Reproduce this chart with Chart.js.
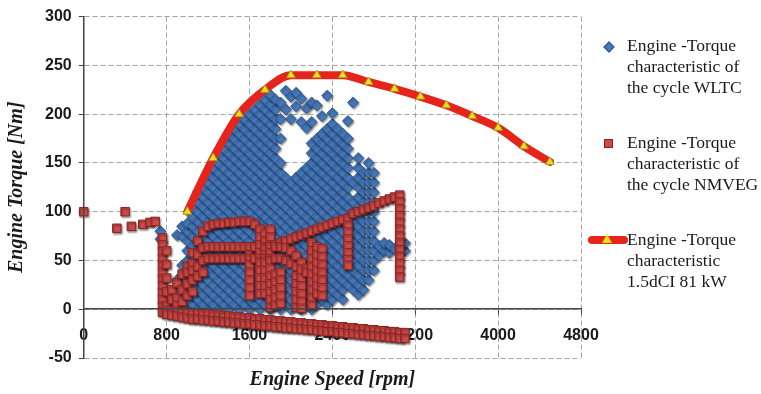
<!DOCTYPE html>
<html>
<head>
<meta charset="utf-8">
<script src="https://cdn.jsdelivr.net/npm/chart.js@4.4.1/dist/chart.umd.min.js"></script>
<style>
  html, body { margin: 0; padding: 0; background: #fff; }
  #wrap { position: relative; width: 761px; height: 394px; }
  .leg { position: absolute; left: 627px; font-family: "Liberation Serif", "Times New Roman", serif; font-size: 17.5px; line-height: 21px; color: #1a1a1a; white-space: nowrap; }
  .mk { position: absolute; }
</style>
</head>
<body>
<div id="wrap">
  <canvas id="chart" width="761" height="394"></canvas>
</div>
<script>
// full-load torque curve of the engine
const curveRpm = [1000, 1250, 1500, 1750, 2000, 2250, 2500, 2750, 3000, 3250, 3500, 3750, 4000, 4250, 4500];
const curveTorque = [100, 155, 200, 225, 240, 240, 240, 233, 226, 218, 209, 198, 186, 167, 151];

// WLTC operating points, read column by column (rpm -> torques)
const wltcRpm = [740, 850, 900, 950, 1000, 1050, 1100, 1150, 1200, 1250, 1300, 1350, 1400, 1450, 1500, 1550, 1600, 1650, 1700, 1750, 1800, 1850, 1900, 1950, 2000, 2050, 2100, 2150, 2200, 2250, 2300, 2350, 2400, 2450, 2500, 2550, 2600, 2650, 2700, 2750, 2800, 2850, 2900, 2950, 3000, 3050, 3100];
const wltcTorque = [
  [80, 72],
  [5, 15],
  [0, 10, 20, 30, 76],
  [5, 15, 25, 35, 45, 75, 85],
  [0, 10, 20, 30, 40, 50, 60, 70, 80, 88],
  [5, 15, 25, 35, 45, 55, 65, 75, 85, 95, 105],
  [0, 10, 20, 30, 40, 50, 60, 70, 80, 90, 100, 110, 120],
  [5, 15, 25, 35, 45, 55, 65, 75, 85, 95, 105, 115, 125],
  [0, 10, 20, 30, 40, 50, 60, 70, 80, 90, 100, 110, 120, 130, 140],
  [5, 15, 25, 35, 45, 55, 65, 75, 85, 95, 105, 115, 125, 135, 145],
  [0, 10, 20, 30, 40, 50, 60, 70, 80, 90, 100, 110, 120, 130, 140, 150, 160],
  [5, 15, 25, 35, 45, 55, 65, 75, 85, 95, 105, 115, 125, 135, 145, 155, 165],
  [0, 10, 20, 30, 40, 50, 60, 70, 80, 90, 100, 110, 120, 130, 140, 150, 160, 170, 180],
  [5, 15, 25, 35, 45, 55, 65, 75, 85, 95, 105, 115, 125, 135, 145, 155, 165, 175, 185],
  [0, 10, 20, 30, 40, 50, 60, 70, 80, 90, 100, 110, 120, 130, 140, 150, 160, 170, 180, 190],
  [5, 15, 25, 35, 45, 55, 65, 75, 85, 95, 105, 115, 125, 135, 145, 155, 165, 175, 185, 195],
  [0, 10, 20, 30, 40, 50, 60, 70, 80, 90, 100, 110, 120, 130, 140, 150, 160, 170, 180, 190, 200],
  [5, 15, 25, 35, 45, 55, 65, 75, 85, 95, 105, 115, 125, 135, 145, 155, 165, 175, 185, 195, 205],
  [0, 10, 20, 30, 40, 50, 60, 70, 80, 90, 100, 110, 120, 130, 140, 150, 160, 170, 180, 190, 200, 210],
  [5, 15, 25, 35, 45, 55, 65, 75, 85, 95, 105, 115, 125, 135, 145, 155, 165, 175, 185, 195, 205, 215],
  [0, 10, 20, 30, 40, 50, 60, 70, 80, 90, 100, 110, 120, 130, 140, 150, 160, 170, 180, 190, 200, 210, 220],
  [5, 15, 25, 35, 45, 55, 65, 75, 85, 95, 105, 115, 125, 135, 145, 155, 165, 175, 185, 195, 205, 215],
  [0, 10, 20, 30, 40, 50, 60, 70, 80, 90, 100, 110, 120, 130, 140, 150, 175, 195, 212],
  [5, 15, 25, 35, 45, 55, 65, 75, 85, 95, 105, 115, 125, 135, 205, 224],
  [0, 10, 20, 30, 40, 50, 60, 70, 80, 90, 100, 110, 120, 130, 195, 218],
  [5, 15, 25, 35, 45, 55, 65, 75, 85, 95, 105, 115, 125, 135, 208, 222],
  [0, 10, 20, 30, 40, 50, 60, 70, 80, 90, 100, 110, 120, 130, 140, 192, 216],
  [5, 15, 25, 35, 45, 55, 65, 75, 85, 95, 105, 115, 125, 135, 145, 186, 206],
  [0, 10, 20, 30, 40, 50, 60, 70, 80, 90, 100, 110, 120, 130, 140, 150, 160, 170, 192, 212],
  [5, 15, 25, 35, 45, 55, 65, 75, 85, 95, 105, 115, 125, 135, 145, 155, 165, 175, 209],
  [10, 20, 30, 40, 50, 60, 70, 80, 90, 100, 110, 120, 130, 140, 150, 160, 170, 180, 198],
  [5, 15, 25, 35, 45, 55, 65, 75, 85, 95, 105, 115, 125, 135, 145, 155, 165, 175, 185, 219],
  [10, 20, 30, 40, 50, 60, 70, 80, 90, 100, 110, 120, 130, 140, 150, 160, 170, 180, 190, 201],
  [15, 25, 35, 45, 55, 65, 75, 85, 95, 105, 115, 125, 135, 145, 155, 165, 175, 185],
  [10, 20, 30, 40, 50, 60, 70, 80, 90, 100, 110, 120, 130, 140, 150, 160, 170, 180],
  [25, 35, 45, 55, 65, 75, 85, 95, 105, 115, 125, 135, 145, 155, 165, 175, 193],
  [20, 30, 40, 50, 60, 70, 80, 90, 100, 110, 130, 212],
  [15, 25, 35, 45, 55, 65, 75, 85, 95, 105, 115, 125, 135, 145, 155],
  [20, 30, 40, 50, 60, 70, 80, 90, 100, 110, 120, 130, 140],
  [30, 40, 50, 60, 70, 80, 90, 100, 110, 120, 130, 140, 150],
  [40, 50, 60, 70, 80, 90, 100, 110, 120, 130, 140],
  [55, 65],
  [60, 68],
  [58, 66],
  [62],
  [64],
  [60, 68]
];

// NMVEG operating points, read column by column (rpm -> torques)
const nedcRpm = [0, 320, 400, 460, 570, 640, 690, 760, 800, 850, 900, 950, 1000, 1050, 1100, 1150, 1200, 1250, 1300, 1350, 1400, 1450, 1500, 1550, 1600, 1650, 1700, 1750, 1800, 1850, 1900, 1950, 2000, 2050, 2100, 2150, 2200, 2250, 2300, 2350, 2400, 2450, 2500, 2550, 2600, 2650, 2700, 2750, 2800, 2850, 2900, 2950, 3000, 3050, 3100];
const nedcTorque = [
  [100], [83], [100], [85], [87], [89], [90],
  [73, 66, 59, 52, 45, 38, 31, 24, 17, 10, 3, -3],
  [60, 46, 32, 18, 4, -1, -5],
  [20, 10, -2, -6],
  [27, 12, 4, -2, -7],
  [36, 20, 8, -3, -8],
  [44, 38, 26, 14, -3, -9],
  [58, 47, 40, 30, 18, -4, -10],
  [70, 56, 44, 34, -4, -10],
  [80, 63, 50, 38, -5, -11],
  [85, 64, 52, -5, -11],
  [87, 64, 52, -6, -12],
  [88, 64, 52, -6, -12],
  [88, 64, 52, -7, -13],
  [89, 64, 52, -7, -13],
  [89, 64, 52, -8, -14],
  [90, 64, 52, -8, -14],
  [90, 64, 52, -9, -15],
  [90, 64, 56, 52, 46, 38, 30, 22, 14, -9, -15],
  [87, 64, 52, -10, -16],
  [82, 74, 66, 58, 52, 48, 40, 32, 24, 16, -10, -16],
  [78, 70, 64, 62, 56, 52, 48, 40, 32, 24, 16, -11, -17],
  [82, 74, 66, 64, 58, 52, 50, 42, 34, 26, 18, 10, 2, -11, -17],
  [66, 64, 52, 36, 28, 20, 12, 4, -12, -18],
  [68, 64, 52, 38, 30, 22, 14, 6, -12, -18],
  [70, 63, 50, -13, -19],
  [72, 60, 47, -13, -19],
  [74, 55, 44, 34, 26, 18, 10, 2, -14, -20],
  [76, 48, 41, 32, 24, 16, 8, 1, -14, -20],
  [78, 42, 38, -15, -21],
  [80, 68, 60, 52, 44, 36, 28, 20, 12, 4, -15, -21],
  [82, 64, 56, 48, 40, 32, 24, 16, -16, -22],
  [84, 62, 54, 46, 38, 30, 22, 14, -16, -22],
  [86, -17, -23],
  [88, -17, -23],
  [90, -18, -24],
  [92, -18, -24],
  [93, 86, 79, 72, 65, 58, 51, 45, -19, -25],
  [98, -19, -25],
  [100, -20, -26],
  [102, -20, -26],
  [104, -21, -27],
  [106, -21, -27],
  [109, -22, -28],
  [111, -22, -28],
  [113, -23, -29],
  [115, -23, -29],
  [117, 110, 103, 96, 89, 82, 75, 68, 61, 54, 47, 40, 33, -24, -30],
  [-24, -30]
];

const speedTicks = [0, 800, 1600, 2400, 3200, 4000, 4800];
const torqueTicks = [-50, 0, 50, 100, 150, 200, 250, 300];

const legendLines = [
  ['Engine -Torque', 'characteristic of', 'the cycle WLTC'],
  ['Engine -Torque', 'characteristic of', 'the cycle NMVEG'],
  ['Engine -Torque', 'characteristic', '1.5dCI 81 kW']
];

function toPoints(rpms, torques) {
  const pts = [];
  rpms.forEach((r, i) => torques[i].forEach(t => pts.push({ x: r, y: t })));
  return pts;
}

// legend drawn as html on the right
const wrap = document.getElementById('wrap');
const legTops = [35, 132, 229];
legendLines.forEach((lines, i) => {
  const d = document.createElement('div');
  d.className = 'leg';
  d.style.top = legTops[i] + 'px';
  d.innerHTML = lines.join('<br>');
  wrap.appendChild(d);
});
wrap.insertAdjacentHTML('beforeend', `
  <div class="mk" style="left:605px;top:43px;width:6px;height:6px;background:#4577b8;border:0.5px solid #2a5288;transform:rotate(45deg)"></div>
  <div class="mk" style="left:604px;top:139px;width:7px;height:7px;background:#cc4a47;border:1px solid #8e2323"></div>
  <div class="mk" style="left:588px;top:236px;width:40px;height:8px;background:#e5251b;border-radius:4px"></div>
  <div class="mk" style="left:602px;top:234px;width:0;height:0;border-left:5px solid transparent;border-right:5px solid transparent;border-bottom:9px solid #e3e31c"></div>
`);

// soft shadow under the scatter markers
const shadowPlugin = {
  id: 'markerShadow',
  beforeDatasetDraw(chart, args) {
    if (args.index === 0) return;
    const ctx = chart.ctx;
    ctx.save();
    ctx.shadowColor = 'rgba(0,0,0,0.45)';
    ctx.shadowBlur = 2;
    ctx.shadowOffsetX = 1;
    ctx.shadowOffsetY = 1.5;
  },
  afterDatasetDraw(chart, args) {
    if (args.index === 0) return;
    chart.ctx.restore();
  }
};

const tickFont = { family: 'Liberation Sans, Arial, sans-serif', size: 16, weight: 'bold' };
const titleFont = { family: 'Liberation Serif, Times New Roman, serif', size: 20, weight: 'bold', style: 'italic' };

new Chart(document.getElementById('chart'), {
  type: 'scatter',
  data: {
    datasets: [
      {
        label: legendLines[2].join(' '),
        data: curveRpm.map((r, i) => ({ x: r, y: curveTorque[i] })),
        showLine: true,
        borderColor: '#e5251b',
        borderWidth: 8,
        borderCapStyle: 'round',
        cubicInterpolationMode: 'monotone',
        pointStyle: 'triangle',
        pointRadius: 5,
        pointBackgroundColor: '#e3e31c',
        pointBorderColor: '#a69d22',
        pointBorderWidth: 1
      },
      {
        label: legendLines[1].join(' '),
        data: toPoints(nedcRpm, nedcTorque),
        clip: false,
        pointStyle: 'rect',
        pointRadius: 6,
        backgroundColor: '#cc4a47',
        borderColor: '#8e2323',
        borderWidth: 1
      },
      {
        label: legendLines[0].join(' '),
        data: toPoints(wltcRpm, wltcTorque),
        pointStyle: 'rectRot',
        pointRadius: 5.5,
        backgroundColor: '#4577b8',
        borderColor: '#2a5288',
        borderWidth: 0.8
      }
    ]
  },
  options: {
    responsive: false,
    animation: false,
    devicePixelRatio: 1,
    layout: { padding: { top: 15, right: 180, left: 0, bottom: 0 } },
    plugins: { legend: { display: false }, tooltip: { enabled: false } },
    scales: {
      x: {
        type: 'linear',
        position: { y: 0 },
        min: 0,
        max: 4800,
        afterBuildTicks: s => { s.ticks = speedTicks.map(v => ({ value: v })); },
        ticks: { font: tickFont, color: '#1a1a1a', padding: 12, maxRotation: 0, callback: v => String(v) },
        grid: { color: '#a3a3a3', lineWidth: 1, tickLength: 5, tickColor: '#444' },
        border: { display: true, color: '#444', width: 1.5, dash: [5, 3], z: 1 },
        title: { display: false }
      },
      xt: {
        type: 'linear',
        axis: 'x',
        position: 'bottom',
        min: 0,
        max: 1,
        ticks: { display: false },
        grid: { display: false, drawTicks: false },
        border: { display: false },
        title: { display: true, text: 'Engine Speed [rpm]', font: titleFont, color: '#1a1a1a', padding: { top: 10, bottom: 2 } }
      },
      y: {
        type: 'linear',
        position: 'left',
        min: -50,
        max: 300,
        afterBuildTicks: s => { s.ticks = torqueTicks.map(v => ({ value: v })); },
        ticks: { font: tickFont, color: '#1a1a1a', padding: 7 },
        grid: { color: '#a3a3a3', lineWidth: 1, tickLength: 5, tickColor: '#444' },
        border: { display: true, color: '#444', width: 1.5, dash: [5, 3], z: 1 },
        title: { display: true, text: 'Engine Torque [Nm]', font: titleFont, color: '#1a1a1a', padding: { top: 5, bottom: 9 } }
      }
    }
  },
  plugins: [shadowPlugin]
});
</script>
</body>
</html>
